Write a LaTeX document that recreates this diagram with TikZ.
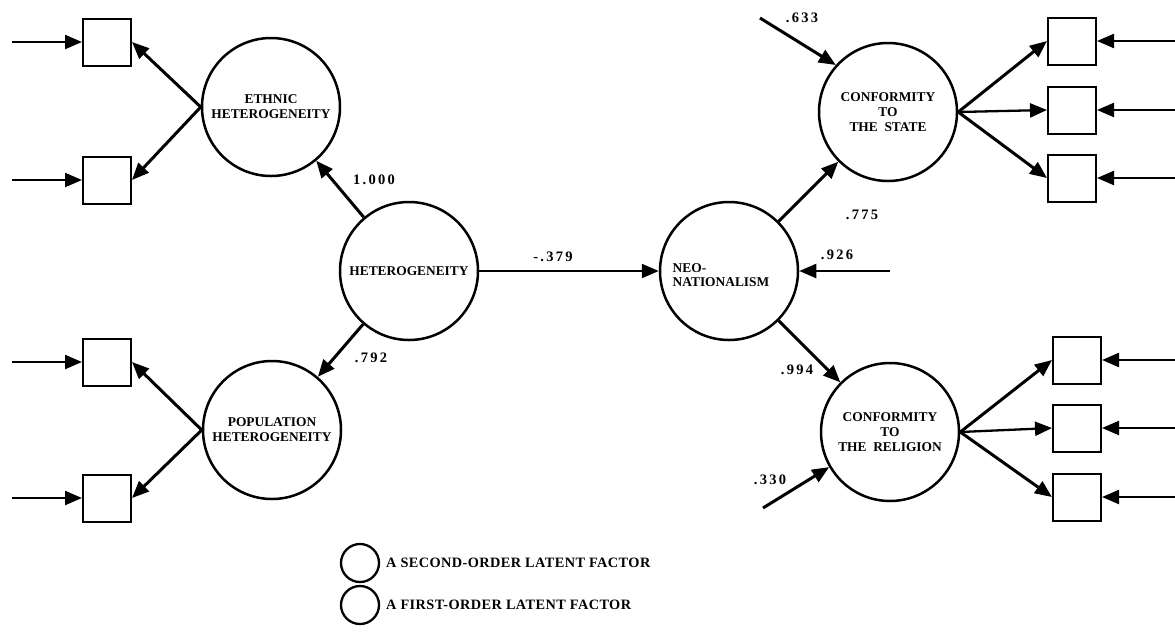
\documentclass[tikz,border=0pt]{standalone}
\usepackage{fontspec}
\setmainfont{Liberation Serif}[BoldFont={Liberation Serif Bold}]
\newfontfamily\lblfont{Liberation Serif Bold}[LetterSpace=16]
\newfontfamily\legfont{Liberation Serif Bold}[LetterSpace=3]
\usetikzlibrary{arrows.meta}
\begin{document}
\begin{tikzpicture}[x=1pt,y=-1pt,
  lat/.style={circle,draw,line width=2.5pt,minimum size=138pt,inner sep=0pt,align=center,
    font=\fontsize{13.4}{15}\selectfont\bfseries},
  obs/.style={draw,line width=2pt,minimum width=48pt,minimum height=47pt,inner sep=0pt},
  txt/.style={inner sep=0pt,align=center,font=\fontsize{13.4}{14.5}\selectfont\bfseries},
  lbl/.style={inner sep=0pt,font=\fontsize{14.5}{16}\lblfont},
  legt/.style={inner sep=0pt,anchor=west,font=\fontsize{14.3}{16}\legfont},
  legc/.style={circle,draw,line width=2.3pt,minimum size=38pt,inner sep=0pt},
  thk/.style={line width=3pt,-{Triangle[length=17pt,width=14pt]}},
  med/.style={line width=2.3pt,-{Triangle[length=17pt,width=14pt]}}
]
\useasboundingbox (0,0) rectangle (1175,633);
% latent factors
\node[lat] (eth) at (271,107) {ETHNIC\\HETEROGENEITY};
\node[lat] (pop) at (272,430) {POPULATION\\HETEROGENEITY};
\node[lat] (het) at (409,271) {HETEROGENEITY};
\node[lat] (neo) at (729,271) {};
\node[txt,align=left] (neot) at (721,275) {NEO-\\NATIONALISM};
\node[lat] (st) at (888,112) {CONFORMITY\\TO\\THE\ \ STATE};
\node[lat] (rel) at (890,432) {CONFORMITY\\TO\\THE\ \ RELIGION};
% observed indicators
\node[obs] (lb1) at (107,42) {};
\node[obs] (lb2) at (107,180) {};
\node[obs] (lb3) at (107,362) {};
\node[obs] (lb4) at (107,498) {};
\node[obs] (rs1) at (1072,41) {};
\node[obs] (rs2) at (1072,110) {};
\node[obs] (rs3) at (1072,178) {};
\node[obs] (rr1) at (1077,360) {};
\node[obs] (rr2) at (1077,428) {};
\node[obs] (rr3) at (1077,497) {};
% error terms
\coordinate (e1) at (12,42);
\coordinate (e2) at (12,180);
\coordinate (e3) at (12,362);
\coordinate (e4) at (12,498);
\coordinate (e5) at (1175,41);
\coordinate (e6) at (1175,110);
\coordinate (e7) at (1175,178);
\coordinate (e8) at (1175,360);
\coordinate (e9) at (1175,428);
\coordinate (e10) at (1175,497);
\foreach \e/\b in {e1/lb1,e2/lb2,e3/lb3,e4/lb4}{\draw[med] (\e) -- (\b.west);}
\foreach \e/\b in {e5/rs1,e6/rs2,e7/rs3,e8/rr1,e9/rr2,e10/rr3}{\draw[med] (\e) -- (\b.east);}
% loadings
\draw[thk] (eth.west) -- (lb1.east);
\draw[thk] (eth.west) -- (lb2.east);
\draw[thk] (pop.west) -- (lb3.east);
\draw[thk] (pop.west) -- (lb4.east);
\draw[thk] (st.east) -- (rs1.west);
\draw[med] (st.east) -- (rs2.west);
\draw[thk] (st.east) -- (rs3.west);
\draw[thk] (rel.east) -- (rr1.west);
\draw[med] (rel.east) -- (rr2.west);
\draw[thk] (rel.east) -- (rr3.west);
% structural paths
\draw[thk] (het) -- (eth);
\draw[thk] (het) -- (pop);
\draw[med] (het) -- (neo);
\draw[thk] (neo) -- (st);
\draw[thk] (neo) -- (rel);
% disturbances
\coordinate (d1) at (760,18);
\coordinate (d2) at (890,271);
\coordinate (d3) at (763,508);
\draw[thk] (d1) -- (st.138);
\draw[med] (d2) -- (neo.east);
\draw[thk] (d3) -- (rel.210);
% coefficients
\node[lbl] (c1) at (374,180) {1.000};
\node[lbl] (c2) at (371,358) {.792};
\node[lbl] (c3) at (553,257) {-.379};
\node[lbl] (c4) at (802,18) {.633};
\node[lbl] (c5) at (862,215) {.775};
\node[lbl] (c6) at (837,255) {.926};
\node[lbl] (c7) at (797,370) {.994};
\node[lbl] (c8) at (770,480) {.330};
% legend
\node[legc] (l1) at (360,563) {};
\node[legc] (l2) at (360,605) {};
\node[legt] (lt1) at (386,563) {A SECOND-ORDER LATENT FACTOR};
\node[legt] (lt2) at (386,605) {A FIRST-ORDER LATENT FACTOR};
\end{tikzpicture}
\end{document}
